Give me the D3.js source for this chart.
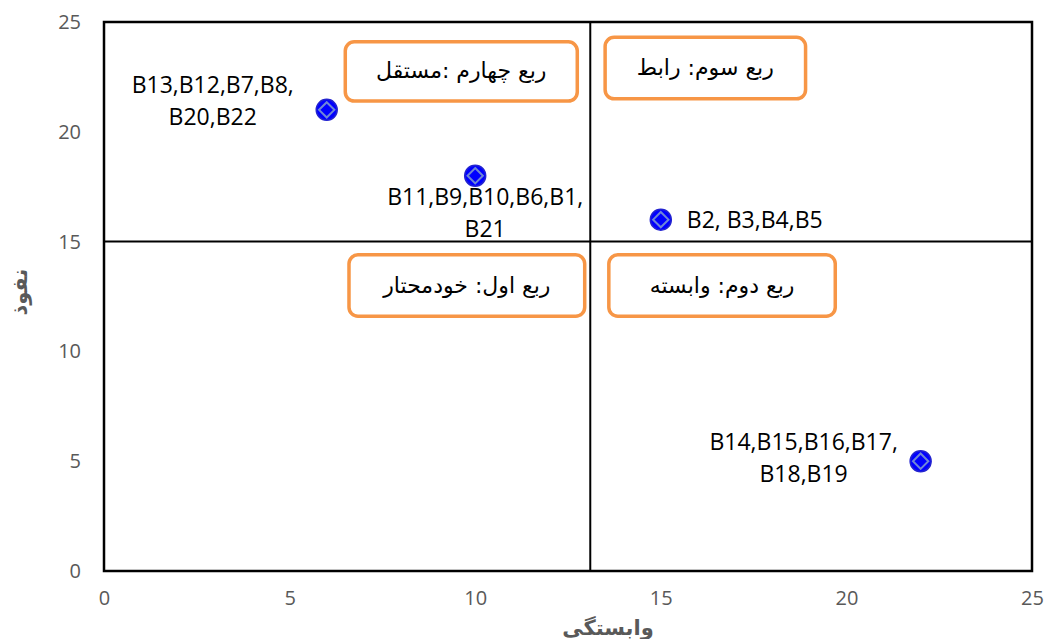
<!DOCTYPE html>
<html>
<head>
<meta charset="utf-8">
<script src="https://cdn.jsdelivr.net/npm/d3@7"></script>
<style>
  body { margin: 0; background: #fff; }
  #chart { width: 1045px; height: 639px; }
</style>
</head>
<body>
<div id="chart"></div>
<script>
// Quadrant scatter (MICMAC style)

// Data
let xValues = [6, 10, 15, 22];
let yValues = [21, 18, 16, 5];
let pointLabels = [
    ["B13,B12,B7,B8,", "B20,B22"],
    ["B11,B9,B10,B6,B1,", "B21"],
    ["B2, B3,B4,B5"],
    ["B14,B15,B16,B17,", "B18,B19"]
];
let xTicks = [0, 5, 10, 15, 20, 25];
let yTicks = [0, 5, 10, 15, 20, 25];
let dividerX = 13.1, dividerY = 15;
let quadrantTitles = ["ربع چهارم :مستقل", "ربع سوم: رابط", "ربع اول: خودمحتار", "ربع دوم: وابسته"];
let xTitle = "وابستگی", yTitle = "نفوذ";

function quadrantChart(div) {

    let cvs = d3.select(div);
    cvs.html(null);

    let margin = { top: 22, right: 13, bottom: 68, left: 104 },
        width = 1045,
        height = 639;

    let svg = cvs.append("svg")
        .attr("width", width)
        .attr("height", height);

    let x = d3.scaleLinear().domain([0, 25]).range([margin.left, width - margin.right]);
    let y = d3.scaleLinear().domain([0, 25]).range([height - margin.bottom, margin.top]);

    let tickFont = "'Open Sans', 'Liberation Sans', sans-serif";

    // X axis labels
    let xa = svg.append("g")
        .attr("transform", "translate(0," + (height - margin.bottom) + ")")
        .call(d3.axisBottom(x).tickValues(xTicks).tickSize(0).tickPadding(20));
    xa.select(".domain").remove();
    xa.selectAll("text").style("font-size", "20px").style("font-family", tickFont).attr("fill", "#595959");

    // Y axis labels
    let ya = svg.append("g")
        .attr("transform", "translate(" + margin.left + ",0)")
        .call(d3.axisLeft(y).tickValues(yTicks).tickSize(0).tickPadding(23));
    ya.select(".domain").remove();
    ya.selectAll("text").style("font-size", "20px").style("font-family", tickFont).attr("fill", "#595959");

    // Plot frame
    svg.append("rect")
        .attr("x", x(0)).attr("y", y(25))
        .attr("width", x(25) - x(0)).attr("height", y(0) - y(25))
        .attr("fill", "none").attr("stroke", "black").attr("stroke-width", 2.5);

    // Quadrant dividers
    svg.append("line")
        .attr("x1", x(dividerX)).attr("x2", x(dividerX))
        .attr("y1", y(0)).attr("y2", y(25))
        .attr("stroke", "black").attr("stroke-width", 2);
    svg.append("line")
        .attr("x1", x(0)).attr("x2", x(25))
        .attr("y1", y(dividerY)).attr("y2", y(dividerY))
        .attr("stroke", "black").attr("stroke-width", 2);

    // Quadrant title boxes: [x0, x1, yTop, yBottom] in data units
    let boxes = [
        [6.5, 12.75, 24.1, 21.4],
        [13.5, 18.9, 24.3, 21.5],
        [6.6, 12.95, 14.4, 11.6],
        [13.6, 19.7, 14.4, 11.6]
    ];
    for ( let i = 0; i < boxes.length; ++i ) {
        let b = boxes[i];
        svg.append("rect")
            .attr("x", x(b[0])).attr("y", y(b[2]))
            .attr("width", x(b[1]) - x(b[0])).attr("height", y(b[3]) - y(b[2]))
            .attr("rx", 9).attr("ry", 9)
            .attr("fill", "white").attr("stroke", "#F79646").attr("stroke-width", 3.5);
        svg.append("text").text(quadrantTitles[i])
            .attr("x", (x(b[0]) + x(b[1])) / 2)
            .attr("y", (y(b[2]) + y(b[3])) / 2 + 7)
            .attr("text-anchor", "middle")
            .attr("direction", "rtl")
            .style("font-family", "'DejaVu Sans', sans-serif")
            .style("font-size", "22px")
            .attr("fill", "black");
    }

    // Points: blue circle with a diamond inside
    for ( let i = 0; i < xValues.length; ++i ) {
        let cx = x(xValues[i]), cy = y(yValues[i]);
        svg.append("circle")
            .attr("cx", cx).attr("cy", cy).attr("r", 10.5)
            .attr("fill", "#0000FF").attr("stroke", "#2323d0").attr("stroke-width", 1.5);
        svg.append("path")
            .attr("d", d3.symbol().type(d3.symbolDiamond2).size(150)())
            .attr("transform", "translate(" + cx + "," + cy + ")")
            .attr("fill", "#0000FF").attr("stroke", "#6f86d6").attr("stroke-width", 2);
    }

    // Point labels (offsets in pixels from the point)
    let labelOffsets = [[-114, -17, "middle"], [10, 29, "middle"], [26, 8, "start"], [-117, -11, "middle"]];
    for ( let i = 0; i < pointLabels.length; ++i ) {
        let t = svg.append("text")
            .attr("x", x(xValues[i]) + labelOffsets[i][0])
            .attr("y", y(yValues[i]) + labelOffsets[i][1])
            .attr("text-anchor", labelOffsets[i][2])
            .style("font-family", tickFont)
            .style("font-size", "23px")
            .attr("fill", "black");
        for ( let j = 0; j < pointLabels[i].length; ++j ) {
            t.append("tspan").text(pointLabels[i][j])
                .attr("x", x(xValues[i]) + labelOffsets[i][0])
                .attr("dy", j == 0 ? 0 : 32);
        }
    }

    // Axis titles
    svg.append("text").text(xTitle)
        .attr("x", (x(0) + x(25)) / 2 + 40)
        .attr("y", height - 4)
        .attr("text-anchor", "middle")
        .style("font-family", "'DejaVu Sans', sans-serif")
        .style("font-weight", "bold")
        .style("font-size", "21px")
        .attr("fill", "#595959");
    svg.append("text").text(yTitle)
        .attr("transform", "translate(27," + y(12.7) + ") rotate(-90)")
        .attr("text-anchor", "middle")
        .style("font-family", "'DejaVu Sans', sans-serif")
        .style("font-weight", "bold")
        .style("font-size", "21px")
        .attr("fill", "#595959");
}

quadrantChart("#chart");
</script>
</body>
</html>
